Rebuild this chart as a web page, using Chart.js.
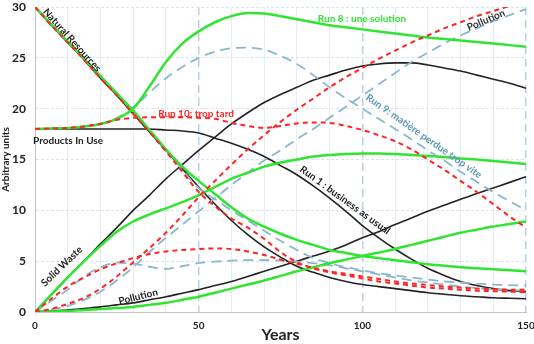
<!DOCTYPE html>
<html>
<head>
<meta charset="utf-8">
<script src="https://cdn.jsdelivr.net/npm/chart.js@4/dist/chart.umd.min.js"></script>
<style>
  html, body { margin: 0; padding: 0; background: #ffffff; }
  #wrap { width: 534px; height: 344px; }
</style>
</head>
<body>
<div id="wrap"><canvas id="c" width="534" height="344"></canvas></div>
<script>
// Years simulated (every 5 years)
const years = [0,5,10,15,20,25,30,35,40,45,50,55,60,65,70,75,80,85,90,95,100,105,110,115,120,125,130,135,140,145,150];

// Run 1 : business as usual
const run1Resources = [30,28.2,26.5,24.8,23.0,21.3,19.5,17.7,15.9,14.1,12.3,10.6,9.0,7.6,6.4,5.4,4.5,3.9,3.4,3.0,2.7,2.5,2.3,2.1,1.9,1.75,1.6,1.5,1.4,1.35,1.3];
const run1Products  = [18,18,18,18,18,18,18,18,17.9,17.8,17.6,17.1,16.6,16.0,15.3,14.4,13.5,12.4,11.2,9.9,8.5,7.3,6.2,5.2,4.3,3.6,3.0,2.6,2.3,2.1,2.0];
const run1Waste     = [0,1.7,3.4,5.0,6.7,8.3,10.0,11.5,13.1,14.5,15.9,17.2,18.5,19.6,20.6,21.4,22.1,22.8,23.3,23.8,24.2,24.4,24.5,24.5,24.3,24.0,23.7,23.3,22.9,22.5,22.0];
const run1Pollution = [0,0.1,0.2,0.35,0.5,0.7,0.9,1.2,1.5,1.85,2.2,2.6,3.0,3.5,4.0,4.5,5.0,5.5,6.0,6.6,7.3,7.9,8.6,9.25,9.9,10.5,11.1,11.65,12.2,12.75,13.3];

// Run 8 : une solution
const run8Resources = [30,28.3,26.6,24.9,23.2,21.5,19.8,17.9,16.0,14.3,12.9,11.6,10.3,9.2,8.4,7.7,7.1,6.6,6.1,5.8,5.5,5.3,5.1,4.9,4.7,4.55,4.4,4.3,4.2,4.1,4.0];
const run8Products  = [18,18.05,18.1,18.25,18.5,19.0,20.0,22.2,24.6,26.4,27.6,28.5,29.1,29.4,29.35,29.1,28.8,28.5,28.2,28.0,27.8,27.6,27.4,27.2,27.0,26.85,26.7,26.55,26.4,26.25,26.1];
const run8Waste     = [0,1.7,3.4,5.0,6.5,7.9,8.9,9.6,10.2,10.8,11.5,12.3,13.1,13.7,14.3,14.7,15.0,15.3,15.45,15.55,15.6,15.6,15.55,15.45,15.35,15.25,15.1,15.0,14.85,14.7,14.55];
const run8Pollution = [0,0.05,0.1,0.2,0.3,0.4,0.5,0.7,0.9,1.2,1.5,1.9,2.3,2.7,3.1,3.55,4.0,4.4,4.8,5.15,5.5,5.85,6.2,6.6,7.0,7.4,7.8,8.1,8.4,8.65,8.9];

// Run 9: matière perdue trop vite
const run9Resources = [30,28.3,26.6,24.9,23.2,21.4,19.7,17.9,16.0,14.0,12.2,11.1,10.0,9.0,8.0,7.0,6.1,5.3,4.8,4.4,4.1,3.8,3.6,3.4,3.2,3.0,2.9,2.8,2.7,2.65,2.6];
const run9Products  = [18,18.05,18.1,18.25,18.5,19.1,20.1,21.6,23.0,24.1,25.0,25.6,25.95,26.0,25.8,25.2,24.4,23.3,22.1,21.0,20.0,19.0,18.0,17.0,15.9,14.9,13.8,12.8,11.8,10.9,10.0];
const run9Waste     = [0,1.1,2.2,3.5,4.4,4.85,4.75,4.45,4.25,4.5,4.8,4.95,5.05,5.1,5.1,5.05,4.95,4.8,4.6,4.3,4.0,3.7,3.4,3.1,2.9,2.7,2.5,2.35,2.25,2.15,2.1];
const run9Pollution = [0,0.25,0.6,1.2,2.0,3.1,4.4,5.9,7.3,8.6,9.9,11.2,12.5,13.7,14.9,15.9,17.0,18.0,19.1,20.2,21.3,22.4,23.5,24.6,25.5,26.4,27.2,27.9,28.6,29.2,29.8];

// Run 10: trop tard
const run10Resources = [30,28.2,26.5,24.8,23.0,21.3,19.5,17.7,15.8,13.8,11.8,10.4,9.2,8.3,7.2,5.9,4.9,4.3,3.9,3.6,3.3,3.0,2.8,2.6,2.4,2.3,2.2,2.1,2.05,2.0,1.95];
const run10Products  = [18,18.05,18.1,18.25,18.5,18.9,19.1,19.15,19.15,19.15,19.1,19.0,18.6,18.3,18.1,18.3,18.55,18.65,18.6,18.3,17.9,17.4,16.8,16.0,15.0,14.0,12.9,11.8,10.6,9.4,8.3];
const run10Waste     = [0,1.3,2.5,3.4,4.2,4.8,5.3,5.7,5.95,6.1,6.2,6.25,6.2,5.95,5.6,5.15,4.75,4.35,4.0,3.75,3.5,3.25,3.0,2.8,2.65,2.5,2.4,2.3,2.25,2.2,2.2];
const run10Pollution = [0,0.3,0.8,1.4,2.3,3.5,4.9,6.3,7.8,9.5,11.3,12.9,14.5,16.0,17.4,18.7,19.9,21.0,22.1,23.1,24.0,24.9,25.7,26.5,27.2,27.9,28.5,29.1,29.6,30.1,30.6];

// Axis ticks
const yTicks = [0,5,10,15,20,25,30];
const xLabelTicks = [0,50,100,150];

const FONT = "Lato, 'Open Sans', 'DejaVu Sans', sans-serif";
const BLACK = '#222222', GREEN = '#2fe52f', RED = '#ff2424', BLUE = '#8bb7cc';

function pts(arr) { return years.map((t, i) => ({ x: t, y: arr[i] })); }

function solid(arr, color, width) {
  return { data: pts(arr), borderColor: color, borderWidth: width, pointRadius: 0, fill: false,
           cubicInterpolationMode: 'monotone' };
}
function dashed(arr, color, width, dash) {
  return Object.assign(solid(arr, color, width), { borderDash: dash });
}

// first datasets are painted on top
const datasets = [
  dashed(run10Resources, RED, 2, [5, 4]),
  dashed(run10Products,  RED, 2, [5, 4]),
  dashed(run10Waste,     RED, 2, [5, 4]),
  dashed(run10Pollution, RED, 2, [5, 4]),
  solid(run8Resources, GREEN, 2.5),
  solid(run8Products,  GREEN, 2.5),
  solid(run8Waste,     GREEN, 2.5),
  solid(run8Pollution, GREEN, 2.5),
  dashed(run9Resources, BLUE, 1.8, [10, 6]),
  dashed(run9Products,  BLUE, 1.8, [10, 6]),
  dashed(run9Waste,     BLUE, 1.8, [10, 6]),
  dashed(run9Pollution, BLUE, 1.8, [10, 6]),
  solid(run1Resources, BLACK, 1.6),
  solid(run1Products,  BLACK, 1.6),
  solid(run1Waste,     BLACK, 1.6),
  solid(run1Pollution, BLACK, 1.6)
];

// Curve annotations: [text, year, value, angle (deg), colour]
const curveLabels = [
  ['Natural Resources', 11.3, 26.75, 48, BLACK],
  ['Products In Use', 10.1, 16.8, 0, BLACK],
  ['Run 10: trop tard', 49.2, 19.5, 0, RED],
  ['Run 8 : une solution', 99.9, 28.85, 0, GREEN],
  ['Pollution', 137.8, 28.7, -23, '#333333'],
  ['Run 9: matière perdue trop vite', 118.8, 17.3, 35, '#5a97b4'],
  ['Run 1 : business as usual', 94.7, 11.0, 36, BLACK],
  ['Solid Waste', 8.2, 4.5, -44, BLACK],
  ['Pollution', 31.5, 1.5, -14, BLACK]
];

const labelPlugin = {
  id: 'curveLabels',
  afterDatasetsDraw(chart) {
    const { ctx, scales } = chart;
    ctx.save();
    ctx.font = `bold 10px ${FONT}`;
    ctx.textAlign = 'center';
    ctx.textBaseline = 'middle';
    for (const [text, t, v, ang, col] of curveLabels) {
      const px = scales.x.getPixelForValue(t);
      const py = scales.y.getPixelForValue(v);
      ctx.save();
      ctx.translate(px, py);
      ctx.rotate(ang * Math.PI / 180);
      ctx.fillStyle = col;
      ctx.fillText(text, 0, 0);
      ctx.restore();
    }
    ctx.restore();
  }
};

// Fix axis band sizes; the plot frame itself comes from layout padding
function fitX(s) { s.height = 32; s.paddingLeft = 0; s.paddingRight = 0; }
function fitY(s) { s.width = 35; s.paddingTop = 0; s.paddingBottom = 0; }

new Chart(document.getElementById('c'), {
  type: 'line',
  data: { datasets },
  options: {
    responsive: false,
    animation: false,
    events: [],
    layout: { autoPadding: false, padding: { top: 7, right: 8, left: 0, bottom: 0 } },
    plugins: { legend: { display: false }, tooltip: { enabled: false } },
    scales: {
      x: {
        type: 'linear', min: 0, max: 150,
        afterFit: fitX,
        ticks: {
          stepSize: 10, padding: 8, color: BLACK, maxRotation: 0, autoSkip: false,
          font: { family: FONT, size: 10, weight: 'bold' },
          callback: v => xLabelTicks.includes(v) ? String(v) : ''
        },
        grid: {
          drawTicks: false,
          color: c => (c.tick && c.tick.value % 50 === 0 && c.tick.value > 0) ? '#b9d0e8' : '#e7edf6',
          lineWidth: c => (c.tick && c.tick.value % 50 === 0 && c.tick.value > 0) ? 1.5 : 1
        },
        border: {
          color: '#c4c4c4', width: 1,
          dash: c => (c.tick && c.tick.value % 50 === 0 && c.tick.value > 0) ? [8, 5] : []
        },
        title: {
          display: true, text: 'Years', color: BLACK, padding: 0,
          font: { family: FONT, size: 16, weight: 'bold', lineHeight: 1.15 }
        }
      },
      y: {
        min: 0, max: 30,
        afterFit: fitY,
        afterBuildTicks: s => { s.ticks = yTicks.map(v => ({ value: v })); },
        ticks: {
          padding: 9, color: BLACK,
          font: { family: FONT, size: 12, weight: 'bold' }
        },
        grid: { drawTicks: false, color: c => (c.tick && c.tick.value === 0) ? '#c4c4c4' : '#d9e4f1' },
        border: { color: '#c4c4c4', width: 1, dash: c => (c.tick && c.tick.value > 0) ? [3, 2] : [] },
        title: {
          display: true, text: 'Arbitrary units', color: BLACK, padding: 0,
          font: { family: FONT, size: 10, weight: 'bold', lineHeight: 1.2 }
        }
      }
    }
  },
  plugins: [labelPlugin]
});
</script>
</body>
</html>
